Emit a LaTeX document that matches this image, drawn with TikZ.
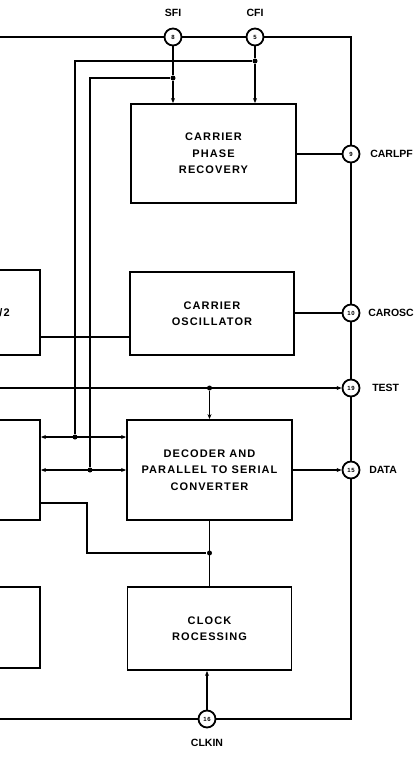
\documentclass[tikz,border=0pt]{standalone}
\usepackage{fontspec}
\setmainfont{Liberation Sans}[LetterSpace=10]
\newfontfamily\pinfont{Liberation Sans}
\usetikzlibrary{positioning,arrows.meta}

\begin{document}
\begin{tikzpicture}[x=1pt,y=-1pt,line width=1.8pt,
    font=\bfseries\fontsize{11}{16.5}\selectfont,
    block/.style={draw,align=center,inner sep=0pt},
    pin/.style={draw,circle,fill=white,minimum size=17pt,inner sep=0pt,
      font=\bfseries\fontsize{6}{6}\selectfont},
    pinlabel/.style={inner sep=0pt,font=\pinfont\bfseries\fontsize{10.5}{11}\selectfont},
    dot/.style={circle,fill,inner sep=0pt,minimum size=5pt},
    sig/.style={-{Stealth[length=5pt,width=4pt]}},
    bisig/.style={{Stealth[length=5pt,width=4pt]}-{Stealth[length=5pt,width=4pt]}}]
  \useasboundingbox (0,0) rectangle (415,764);
  \clip (0,0) rectangle (415,764);
  % Blocks
  \node[block,minimum width=165pt,minimum height=99pt] (cpr) at (213.5,153.5) {CARRIER\\PHASE\\RECOVERY};
  \node[block,minimum width=164pt,minimum height=83pt] (osc) at (212,313.5) {CARRIER\\OSCILLATOR};
  \node[block,minimum width=165pt,minimum height=100pt] (dec) at (209.5,470) {DECODER AND\\PARALLEL TO SERIAL\\CONVERTER};
  \node[block,minimum width=164pt,minimum height=83pt] (clk) at (209.5,628.5) {CLOCK\\ROCESSING};
  % Blocks cut off at the left edge
  \node[block,minimum width=120pt,minimum height=85pt] (div) at (-20,312.5) {};
  \node[block,minimum width=120pt,minimum height=100pt] (lb2) at (-20,470) {};
  \node[block,minimum width=120pt,minimum height=81pt] (lb3) at (-20,627.5) {};
  \node[anchor=east] (divtxt) at (14,313) {/2};
  % Pins
  \foreach \nm/\x/\y in {8/173/37,5/255/37,9/351/154,10/351/313,19/351/388,15/351/470,16/207/719} {
    \node[pin] (p\nm) at (\x,\y) {\nm};
  }
  \node[pinlabel,above=10pt of p8] (sfi) {SFI};
  \node[pinlabel,above=10pt of p5] (cfi) {CFI};
  \node[pinlabel,right=9pt of p9] (carlpf) {CARLPF};
  \node[pinlabel,right=7pt of p10] (carosc) {CAROSC};
  \node[pinlabel,right=11pt of p19] (test) {TEST};
  \node[pinlabel,right=8pt of p15] (data) {DATA};
  \node[pinlabel,below=10pt of p16] (clkin) {CLKIN};
  % Outer ring
  \coordinate (tl) at (0,37);
  \coordinate (tr) at (351,37);
  \coordinate (br) at (351,719);
  \coordinate (bl) at (0,719);
  \draw (tl) -- (p8) -- (p5) -- (tr) -- (p9) -- (p10) -- (p19) -- (p15) -- (br) -- (p16) -- (bl);
  % SFI and CFI feeds
  \node[dot] (j8) at (173,78) {};
  \node[dot] (j5) at (255,61) {};
  \node[dot] (j5b) at (75,437) {};
  \node[dot] (j8b) at (90,470) {};
  \draw[sig] (p8) -- (j8) -- (cpr.north -| j8);
  \draw[sig] (p5) -- (j5) -- (cpr.north -| j5);
  \draw (j5) -| (j5b);
  \draw (j8) -| (j8b);
  \draw[bisig] (lb2.east |- j5b) -- (dec.west |- j5b);
  \draw[bisig] (lb2.east |- j8b) -- (dec.west |- j8b);
  % Oscillator input
  \draw (div.east |- 0,337) -- (osc.west |- 0,337);
  % Test line
  \coordinate (testin) at (0,388);
  \node[dot] (jt) at (209.5,388) {};
  \draw[sig] (testin) -- (p19);
  \draw[sig] (jt) -- (dec.north);
  % Outputs
  \draw (cpr.east |- p9) -- (p9);
  \draw (osc.east |- p10) -- (p10);
  \draw[sig] (dec.east |- p15) -- (p15);
  % Clock
  \node[dot] (jc) at (209.5,553) {};
  \coordinate (ck) at (87,503);
  \draw (lb2.east |- ck) -- (ck) |- (jc);
  \draw (dec.south) -- (clk.north);
  \draw[sig] (p16) -- (clk.south -| p16);
\end{tikzpicture}
\end{document}
